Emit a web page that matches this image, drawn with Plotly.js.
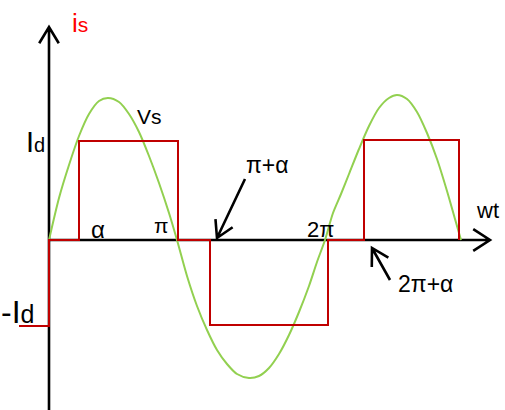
<!DOCTYPE html>
<html>
<head>
<meta charset="utf-8">
<script src="https://cdn.plot.ly/plotly-3.0.1.min.js"></script>
<style>
  html, body { margin: 0; padding: 0; background: #fff; }
  #chart { width: 505px; height: 410px; }
</style>
</head>
<body>
<div id="chart"></div>
<script>
// Angle positions along wt (plot units): 0, α, π, π+α, 2π, 2π+α, 3π
const wtMarks = [0, 30, 129, 161, 279, 315, 410];

// Source current i_s: square wave delayed by α, levels +Id / -Id
const isX = [-30, 0, 0, 30, 30, 129, 129, 161, 161, 279, 279, 315, 315, 410, 410];
const isY = [-86, -86, 0, 0, 99, 99, 0, 0, -85, -85, 0, 0, 100, 100, 0];

// Source voltage v_s: sampled points along the sine curve
const vsX = [0, 10, 20, 30, 40, 50, 59, 70, 80, 90, 100, 110, 120, 128,
             138, 148, 158, 168, 178, 188, 200, 210, 220, 230, 240, 250, 260, 268, 276,
             284, 292, 300, 310, 320, 330, 340, 348, 358, 368, 378, 388, 398, 406, 412];
const vsY = [0, 42, 75, 104, 126, 139, 142, 138, 126, 108, 84, 57, 27, 0,
             -36, -66, -90, -110, -124, -134, -138, -136, -128, -114, -95, -72, -46, -22, 0,
             27, 46, 66, 91, 114, 132, 142, 145, 141, 128, 107, 81, 49, 21, 0];

// Labels: text, left edge and baseline (plot units)
const labelText = ['i<span style="font-size:21px">s</span>', 'Vs',
                   'I<span style="font-size:20px">d</span>',
                   '-I<span style="font-size:25px">d</span>',
                   'α', 'π', 'π+α', '2π', '2π+α', 'wt'];
const labelX = [24, 89, -22, -47, 43, 106, 198, 259, 350, 428];
const labelY = [207, 116, 88, -83, 2, 7, 67, 3, -52, 22];
const labelSize = [26, 21, 29, 32, 24, 21, 23, 22, 23, 22];
const labelColor = ['#ff0000', '#000', '#000', '#000', '#000', '#000', '#000', '#000', '#000', '#000'];

const X_MIN = -49, X_MAX = 456, Y_MIN = -170, Y_MAX = 240;
const AXIS_TOP = 213, AXIS_RIGHT = 441;

// Open "V" arrow: shaft from tail to tip plus two barbs
function arrowPath(tip, tail, len, deg) {
  const dx = tail[0] - tip[0], dy = tail[1] - tip[1];
  const d = Math.hypot(dx, dy), ux = dx / d, uy = dy / d;
  const a = deg * Math.PI / 180;
  const w = s => [tip[0] + len * (ux * Math.cos(s * a) - uy * Math.sin(s * a)),
                  tip[1] + len * (ux * Math.sin(s * a) + uy * Math.cos(s * a))];
  const w1 = w(1), w2 = w(-1);
  return `M${tail[0]},${tail[1]} L${tip[0]},${tip[1]} ` +
         `M${w1[0]},${w1[1]} L${tip[0]},${tip[1]} L${w2[0]},${w2[1]}`;
}

const shapes = [
  // vertical axis (i_s)
  { type: 'path', layer: 'below', line: { color: '#000', width: 2.6 },
    path: arrowPath([0, AXIS_TOP], [0, Y_MIN], 19, 31) },
  // horizontal axis (wt)
  { type: 'path', layer: 'below', line: { color: '#000', width: 2.6 },
    path: arrowPath([AXIS_RIGHT, 0], [0, 0], 20, 33) },
  // pointer to π+α
  { type: 'path', layer: 'above', line: { color: '#000', width: 2.6 },
    path: arrowPath([wtMarks[3] + 7, 2], [wtMarks[3] + 35, 61], 19, 30) },
  // pointer to 2π+α
  { type: 'path', layer: 'above', line: { color: '#000', width: 2.6 },
    path: arrowPath([wtMarks[5] + 8, -8], [wtMarks[5] + 26, -40], 19, 30) }
];

const annotations = labelText.map((t, i) => ({
  text: t, x: labelX[i], y: labelY[i], xref: 'x', yref: 'y',
  xanchor: 'left', yanchor: 'bottom', showarrow: false,
  yshift: -(0.21 * labelSize[i] + 2), xshift: -3,
  font: { family: '"Liberation Sans", Arial, sans-serif', size: labelSize[i], color: labelColor[i] }
}));

const traces = [
  { x: vsX, y: vsY, mode: 'lines', line: { color: '#92d050', width: 2, shape: 'spline', smoothing: 0.8 },
    hoverinfo: 'skip' },
  { x: isX, y: isY, mode: 'lines', line: { color: '#c00000', width: 2 }, hoverinfo: 'skip' }
];

const layout = {
  width: 505, height: 410,
  margin: { l: 0, r: 0, t: 0, b: 0 },
  paper_bgcolor: '#fff', plot_bgcolor: '#fff',
  showlegend: false,
  xaxis: { range: [X_MIN, X_MAX], visible: false, fixedrange: true },
  yaxis: { range: [Y_MIN, Y_MAX], visible: false, fixedrange: true },
  shapes: shapes,
  annotations: annotations
};

Plotly.newPlot('chart', traces, layout, { staticPlot: true, displayModeBar: false });
</script>
</body>
</html>
